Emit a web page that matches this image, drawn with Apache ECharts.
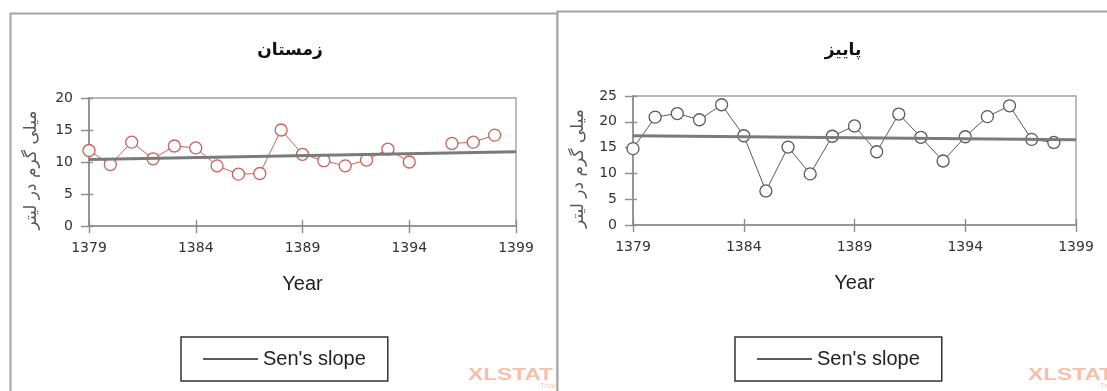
<!DOCTYPE html>
<html>
<head>
<meta charset="utf-8">
<script src="https://cdn.jsdelivr.net/npm/echarts@6/dist/echarts.min.js"></script>
<style>
  html, body { margin: 0; padding: 0; background: #ffffff; }
  #chart { width: 1107px; height: 391px; }
</style>
</head>
<body>
<div id="chart"></div>
<script>
// Year axis categories (solar hijri years)
const years = ['1379','1380','1381','1382','1383','1384','1385','1386','1387','1388','1389',
               '1390','1391','1392','1393','1394','1395','1396','1397','1398','1399'];

// Seasonal concentrations, mg/L (1379 .. 1398)
const winterValues = [11.8, 9.6, 13.1, 10.5, 12.5, 12.2, 9.4, 8.1, 8.2, 15.0,
                      11.2, 10.2, 9.4, 10.3, 12.0, 10.0, null, 12.9, 13.1, 14.2];
const autumnValues = [14.8, 20.9, 21.6, 20.4, 23.3, 17.3, 6.6, 15.1, 9.9, 17.2,
                      19.2, 14.2, 21.5, 17.0, 12.4, 17.1, 21.0, 23.1, 16.6, 16.0];

// Sen's slope trend line end values at 1379 and 1399
const winterSen = [10.4, 11.6];
const autumnSen = [17.3, 16.5];

// Y-axis tick settings
const winterYMax = 20;
const autumnYMax = 25;
const yStep = 5;

const titles = ['زمستان', 'پاییز'];
const yName = 'میلی گرم در لیتر';
const xName = 'Year';
const senName = "Sen's slope";

const tickFont = 'DejaVu Sans';
const textFont = 'Liberation Sans';
const axisGray = '#8c8c8c';

function mainX(grid) {
  return {
    type: 'category', gridIndex: grid, data: years, boundaryGap: false, position: 'bottom',
    name: xName, nameLocation: 'middle', nameGap: 48,
    nameTextStyle: { fontFamily: textFont, fontSize: 20, color: '#222' },
    axisLine: { lineStyle: { color: axisGray, width: 1.6 } },
    axisTick: { interval: 4, length: 7, lineStyle: { color: axisGray, width: 1.4 } },
    axisLabel: { interval: 4, margin: 15, fontFamily: tickFont, fontSize: 14, color: '#333' },
    splitLine: { show: false }
  };
}
function innerX(grid) {
  return {
    type: 'category', gridIndex: grid, data: years, boundaryGap: false, position: 'bottom',
    axisLine: { show: false },
    axisTick: { inside: true, interval: 4, length: 6, lineStyle: { color: axisGray, width: 1.4 } },
    axisLabel: { show: false }, splitLine: { show: false }
  };
}
function mainY(grid, max, gap) {
  return {
    type: 'value', gridIndex: grid, min: 0, max: max, interval: yStep, position: 'left',
    name: yName, nameLocation: 'middle', nameGap: gap,
    nameTextStyle: { fontFamily: tickFont, fontSize: 17, color: '#555', padding: [0, 16, 0, 0] },
    axisLine: { show: true, lineStyle: { color: axisGray, width: 1.6 } },
    axisTick: { show: true, length: 8, lineStyle: { color: axisGray, width: 1.4 } },
    axisLabel: { margin: 16, fontFamily: tickFont, fontSize: 14, color: '#333' },
    splitLine: { show: false }
  };
}
function innerY(grid, max) {
  return {
    type: 'value', gridIndex: grid, min: 0, max: max, interval: yStep, position: 'left',
    axisLine: { show: false },
    axisTick: { show: true, inside: true, length: 4, lineStyle: { color: axisGray, width: 1.4 } },
    axisLabel: { show: false }, splitLine: { show: false }
  };
}
function dataSeries(name, values, axis, color) {
  return {
    name: name, type: 'line', xAxisIndex: axis, yAxisIndex: axis,
    data: values, connectNulls: false,
    symbol: 'circle', symbolSize: 12, showAllSymbol: true,
    lineStyle: { color: color, width: 1 },
    itemStyle: { color: '#ffffff', borderColor: color, borderWidth: 1.3 },
    emphasis: { disabled: true }, z: 3
  };
}
function senSeries(ends, axis) {
  return {
    name: senName, type: 'line', xAxisIndex: axis, yAxisIndex: axis,
    data: [[years[0], ends[0]], [years[years.length - 1], ends[1]]],
    symbol: 'none', lineStyle: { color: '#7a7a7a', width: 3 },
    itemStyle: { color: '#5a5a5a' },
    emphasis: { disabled: true }, z: 4
  };
}
function legendAt(left) {
  return {
    data: [{ name: senName, icon: 'rect' }], left: left, top: 337, orient: 'horizontal',
    itemWidth: 55, itemHeight: 2, itemGap: 0,
    padding: [12, 22, 12, 22],
    borderColor: '#333', borderWidth: 1.5, backgroundColor: '#ffffff',
    textStyle: { fontFamily: textFont, fontSize: 20, color: '#222' },
    selectedMode: false
  };
}
function watermark(x, y) {
  return [
    { type: 'text', x: x, y: y, scaleX: 1.42, style: { text: 'XLSTAT', fontFamily: textFont,
      fontWeight: 'bold', fontSize: 16, fill: '#f5bfa9' } },
    { type: 'text', x: x + 72, y: y + 14, style: { text: 'Trial', fontFamily: textFont,
      fontSize: 8, fill: '#f6c9b8' } }
  ];
}

const chart = echarts.init(document.getElementById('chart'), null, { renderer: 'canvas' });
chart.setOption({
  backgroundColor: '#ffffff',
  animation: false,
  title: [
    { text: titles[0], left: 285, top: 37, textAlign: 'center',
      textStyle: { fontFamily: tickFont, fontWeight: 'bold', fontSize: 17, color: '#111' } },
    { text: titles[1], left: 838, top: 37, textAlign: 'center',
      textStyle: { fontFamily: tickFont, fontWeight: 'bold', fontSize: 17, color: '#111' } }
  ],
  grid: [
    { left: 89, right: 591, top: 98, bottom: 165, show: true, borderColor: '#a0a0a0', borderWidth: 1.4, backgroundColor: 'transparent' },
    { left: 633, right: 31, top: 96, bottom: 166, show: true, borderColor: '#a0a0a0', borderWidth: 1.4, backgroundColor: 'transparent' }
  ],
  xAxis: [mainX(0), innerX(0), mainX(1), innerX(1)],
  yAxis: [mainY(0, winterYMax, 49), innerY(0, winterYMax), mainY(1, autumnYMax, 46), innerY(1, autumnYMax)],
  legend: [legendAt(181), legendAt(735)],
  graphic: [
    { type: 'rect', z: -10, shape: { x: 10.5, y: 13.5, width: 547, height: 420 },
      style: { fill: '#ffffff', stroke: '#a3a3a3', lineWidth: 2 } },
    ...watermark(468, 368).map(e => Object.assign(e, { z: -9 })),
    { type: 'rect', z: -8, shape: { x: 557.5, y: 11.5, width: 600, height: 420 },
      style: { fill: '#ffffff', stroke: '#a3a3a3', lineWidth: 2 } },
    ...watermark(1028, 368).map(e => Object.assign(e, { z: -7 }))
  ],
  series: [
    dataSeries(titles[0], winterValues, 0, '#c8605c'),
    senSeries(winterSen, 0),
    dataSeries(titles[1], autumnValues, 2, '#5a5a5a'),
    senSeries(autumnSen, 2)
  ]
});
</script>
</body>
</html>
